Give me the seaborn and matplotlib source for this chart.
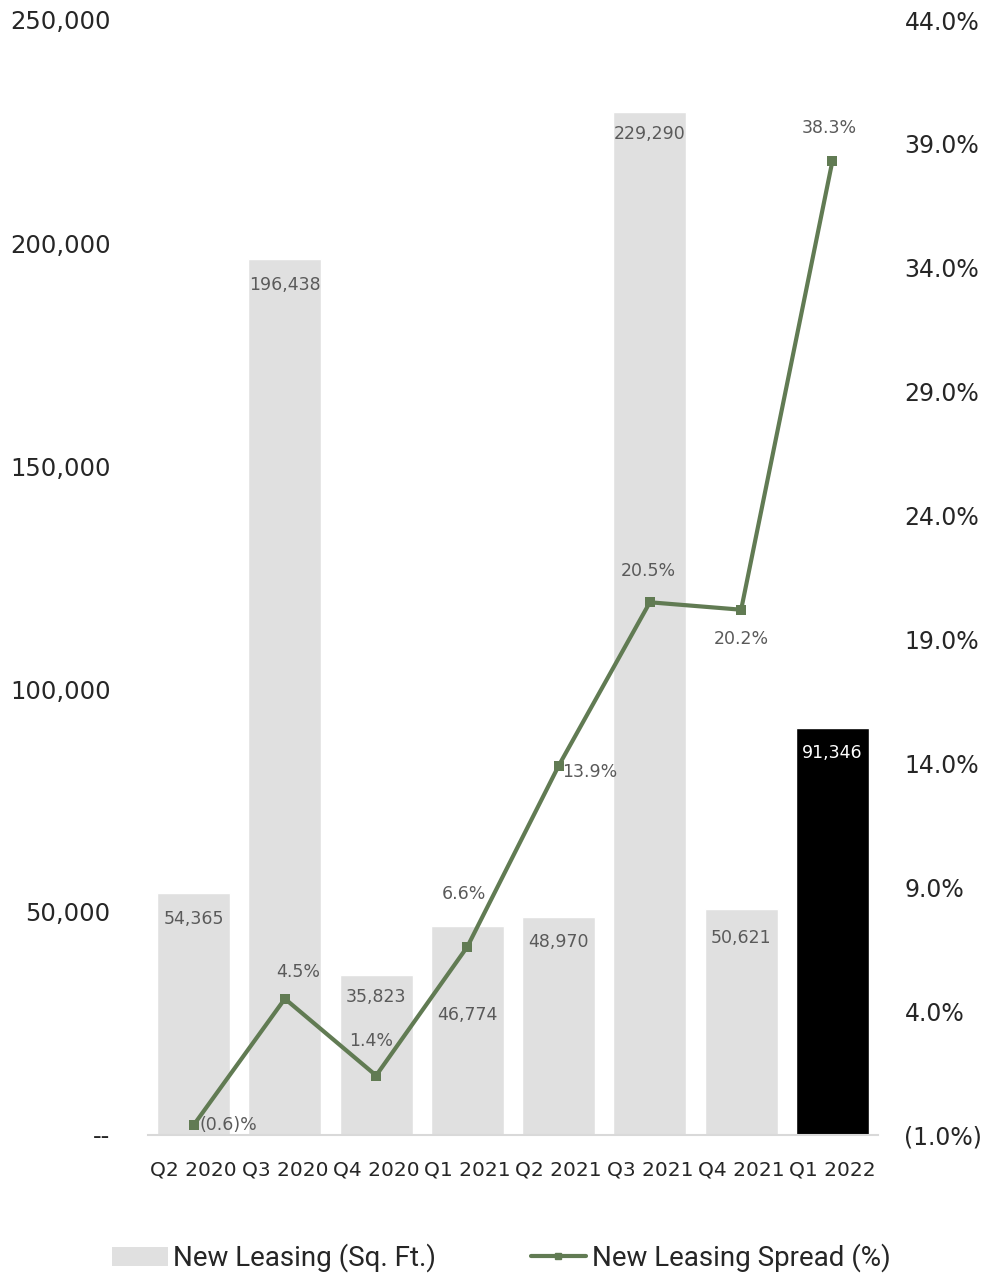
import matplotlib
matplotlib.use("Agg")
import matplotlib.pyplot as plt
import seaborn as sns
import pandas as pd
from matplotlib.patches import Patch
from matplotlib.lines import Line2D

quarters = ["Q2 2020", "Q3 2020", "Q4 2020", "Q1 2021", "Q2 2021", "Q3 2021", "Q4 2021", "Q1 2022"]
leasing_sqft = [54365, 196438, 35823, 46774, 48970, 229290, 50621, 91346]
spread_pct = [-0.6, 4.5, 1.4, 6.6, 13.9, 20.5, 20.2, 38.3]
spread_labels = ["(0.6)%", "4.5%", "1.4%", "6.6%", "13.9%", "20.5%", "20.2%", "38.3%"]
left_ticks = [0, 50000, 100000, 150000, 200000, 250000]
right_ticks = [-1, 4, 9, 14, 19, 24, 29, 34, 39, 44]

# styling (label offsets in pixels)
bar_label_offsets = [-26, -26, -22, -89, -25, -22, -29, -25]
line_label_offsets = [(6, 0, "left"), (13, 27, "center"), (-5, 35, "center"), (-3, 53, "center"),
                      (4, -6, "left"), (-2, 31, "center"), (0, -29, "center"), (-3, 33, "center")]

sns.set_theme(style="white")
plt.rcParams["font.family"] = ["DejaVu Sans"]

GRAY = "#e0e0e0"
GREEN = "#617b53"
LABEL = "#5a5a5a"

fig = plt.figure(figsize=(9.83, 12.75), dpi=100)
ax = fig.add_axes([148/983, 140/1275, 730/983, 1115/1275])

df = pd.DataFrame({"q": quarters, "v": leasing_sqft})
colors = [GRAY] * (len(quarters) - 1) + ["#000000"]
sns.barplot(data=df, x="q", y="v", hue="q", palette=colors, legend=False, ax=ax,
            width=0.8, saturation=1, order=quarters)
ax.set_xlim(-0.5, len(quarters) - 0.5)
ax.set_ylim(0, 250000)
ax.set_yticks(left_ticks)
ax.set_yticklabels(["--" if t == 0 else f"{t:,}" for t in left_ticks], fontsize=17.5)
ax.set_xlabel("")
ax.set_ylabel("")
ax.tick_params(axis="y", length=0, pad=27)
ax.tick_params(axis="x", length=0, pad=18, labelsize=14.5)
for s in ["left", "right", "top"]:
    ax.spines[s].set_visible(False)
ax.spines["bottom"].set_color("#d9d9d9")
ax.spines["bottom"].set_linewidth(1.5)

for i, v in enumerate(leasing_sqft):
    c = "white" if i == len(leasing_sqft) - 1 else LABEL
    ax.annotate(f"{v:,}", (i, v), xytext=(0, bar_label_offsets[i]), textcoords="offset pixels",
                ha="center", va="center", fontsize=12.5, color=c)

ax2 = ax.twinx()
sns.lineplot(x=list(range(len(quarters))), y=spread_pct, ax=ax2, color=GREEN, linewidth=3,
             marker="s", markersize=7, markeredgewidth=0)
ax2.set_ylim(-1, 44)
ax2.set_yticks(right_ticks)
ax2.set_yticklabels([f"({abs(t):.1f}%)" if t < 0 else f"{t:.1f}%" for t in right_ticks], fontsize=17)
ax2.tick_params(axis="y", length=0, pad=19)
for s in ["left", "right", "top", "bottom"]:
    ax2.spines[s].set_visible(False)
ax2.set_xlim(-0.5, len(quarters) - 0.5)

for i, (v, lab) in enumerate(zip(spread_pct, spread_labels)):
    dx, dy, ha = line_label_offsets[i]
    ax2.annotate(lab, (i, v), xytext=(dx, dy), textcoords="offset pixels",
                 ha=ha, va="center", fontsize=12.5, color=LABEL)

handles = [Patch(facecolor=GRAY, edgecolor="none", label="New Leasing (Sq. Ft.)"),
           Line2D([0], [0], color=GREEN, lw=3, marker="s", markersize=5, label="New Leasing Spread (%)")]
fig.legend(handles=handles, loc="center", bbox_to_anchor=(0.51, 1 - 1258/1275), ncol=2, frameon=False,
           columnspacing=3.4, handlelength=2.0, handletextpad=0.2,
           prop={"family": "Roboto", "size": 20})

fig.savefig("out.png", dpi=100)
